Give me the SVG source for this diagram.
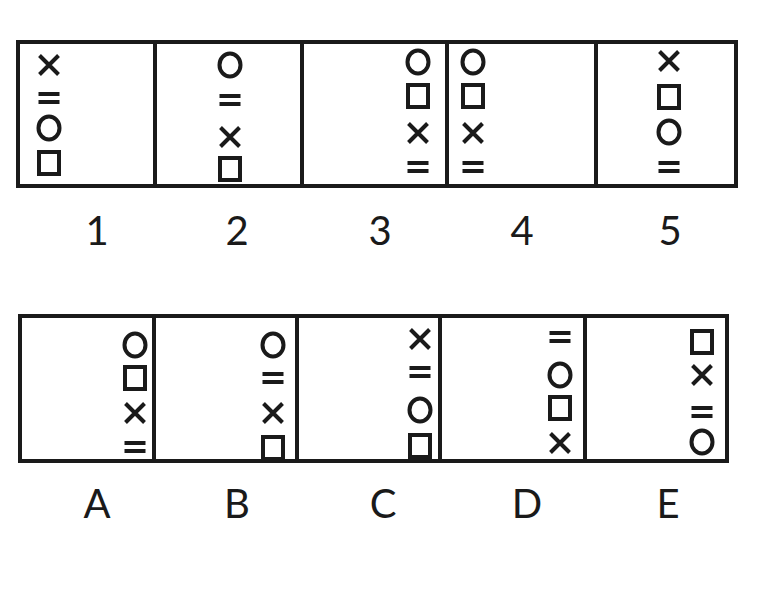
<svg xmlns="http://www.w3.org/2000/svg" xmlns:xlink="http://www.w3.org/1999/xlink" width="778" height="591" viewBox="0 0 778 591">
<style>
.frame{fill:none;stroke:#1a1a1a;stroke-width:4}
.sym{fill:none;stroke:#1a1a1a;stroke-width:4}
.lbl{font-family:Lato,"Open Sans",sans-serif;font-size:40px;fill:#1a1a1a;text-anchor:middle}
</style>
<defs>
<path id="x" class="sym" d="M-9.5,-9.5 L9.5,9.5 M9.5,-9.5 L-9.5,9.5"/>
<ellipse id="o" class="sym" rx="10.5" ry="11.5"/>
<rect id="sq" class="sym" x="-10" y="-11" width="20" height="22"/>
<path id="eq" class="sym" d="M-10.5,-4 H10.5 M-10.5,4 H10.5"/>
</defs>
<rect width="778" height="591" fill="#ffffff"/>
<g id="connectors">
<rect class="frame" x="18" y="42" width="718" height="144"/>
<path class="frame" d="M155,42 V186 M302,42 V186 M447,42 V186 M596,42 V186"/>
<rect class="frame" x="20" y="316" width="707" height="145"/>
<path class="frame" d="M154,316 V461 M297,316 V461 M440,316 V461 M585,316 V461"/>
</g>
<g id="panel1">
<use href="#x" x="49" y="65"/><use href="#eq" x="49" y="98"/><use href="#o" x="49" y="128"/><use href="#sq" x="49" y="163"/>
</g>
<g id="panel2">
<use href="#o" x="230" y="65"/><use href="#eq" x="230" y="100"/><use href="#x" x="230" y="137"/><use href="#sq" x="230" y="169"/>
</g>
<g id="panel3">
<use href="#o" x="418" y="62"/><use href="#sq" x="418" y="96"/><use href="#x" x="418" y="133"/><use href="#eq" x="418" y="167"/>
</g>
<g id="panel4">
<use href="#o" x="473" y="62"/><use href="#sq" x="473" y="96"/><use href="#x" x="473" y="133"/><use href="#eq" x="473" y="167"/>
</g>
<g id="panel5">
<use href="#x" x="669" y="61"/><use href="#sq" x="669" y="97"/><use href="#o" x="669" y="132"/><use href="#eq" x="669" y="167"/>
</g>
<g id="panelA">
<use href="#o" x="135" y="345"/><use href="#sq" x="135" y="378"/><use href="#x" x="135" y="413"/><use href="#eq" x="135" y="447"/>
</g>
<g id="panelB">
<use href="#o" x="273" y="345"/><use href="#eq" x="273" y="378"/><use href="#x" x="273" y="413"/><use href="#sq" x="273" y="448"/>
</g>
<g id="panelC">
<use href="#x" x="420" y="339"/><use href="#eq" x="420" y="372"/><use href="#o" x="420" y="410"/><use href="#sq" x="420" y="446"/>
</g>
<g id="panelD">
<use href="#eq" x="560" y="337"/><use href="#o" x="560" y="375"/><use href="#sq" x="560" y="408"/><use href="#x" x="560" y="443"/>
</g>
<g id="panelE">
<use href="#sq" x="702" y="342"/><use href="#x" x="702" y="375"/><use href="#eq" x="702" y="412"/><use href="#o" x="702" y="442"/>
</g>
<g id="labels">
<text class="lbl" x="97" y="245">1</text>
<text class="lbl" x="237" y="245">2</text>
<text class="lbl" x="380" y="245">3</text>
<text class="lbl" x="522" y="245">4</text>
<text class="lbl" x="670" y="245">5</text>
<text class="lbl" x="97" y="518">A</text>
<text class="lbl" x="237" y="518">B</text>
<text class="lbl" x="383" y="518">C</text>
<text class="lbl" x="527" y="518">D</text>
<text class="lbl" x="668" y="518">E</text>
</g>
</svg>
